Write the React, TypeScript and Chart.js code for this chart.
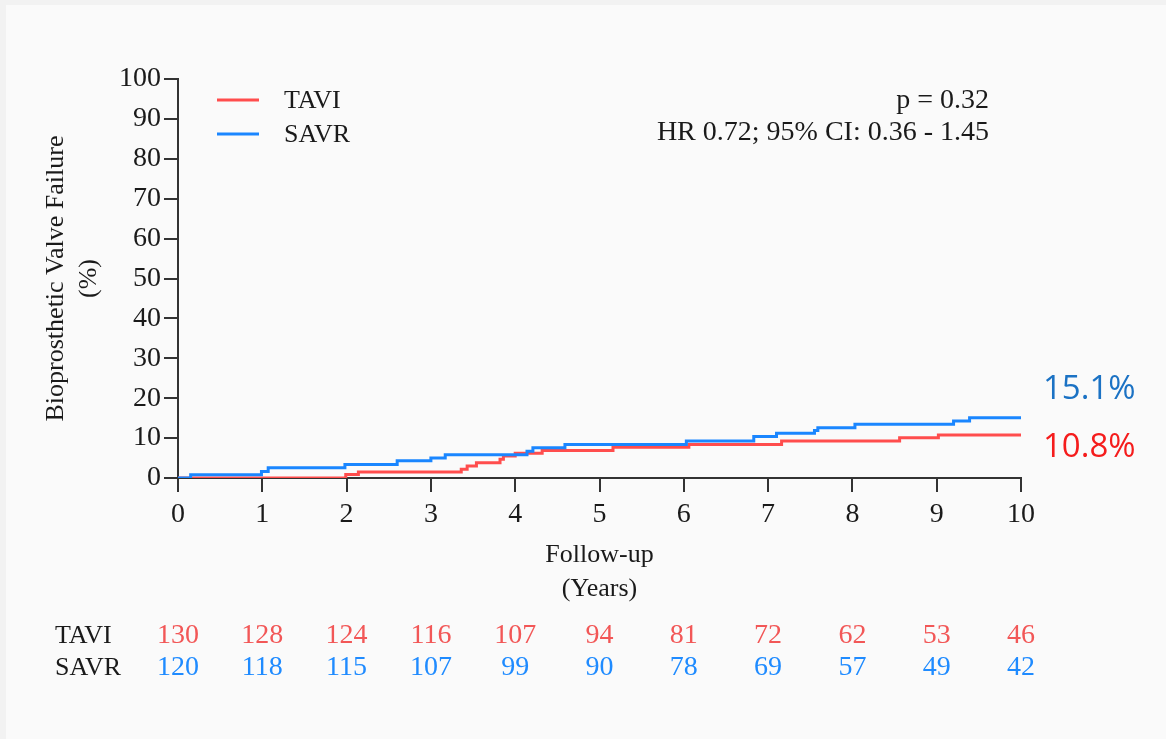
import React, { useEffect, useRef } from "react";
import { Chart, registerables } from "chart.js";

Chart.register(...registerables);

// ---- data ----
const taviTime = [0, 1.99, 2.14, 3.36, 3.43, 3.54, 3.82, 3.86, 4.0, 4.32, 5.16, 6.06, 7.16, 8.56, 9.02, 10];
const taviPct = [0, 0.9, 1.5, 2.2, 3.0, 3.8, 4.7, 5.5, 6.2, 6.9, 7.7, 8.4, 9.3, 10.1, 10.8, 10.8];
const savrTime = [0, 0.15, 0.99, 1.07, 1.98, 2.6, 3.0, 3.17, 4.14, 4.21, 4.59, 6.03, 6.83, 7.1, 7.55, 7.59, 8.03, 9.2, 9.39, 10];
const savrPct = [0, 0.8, 1.6, 2.6, 3.4, 4.3, 5.0, 5.8, 6.7, 7.6, 8.4, 9.3, 10.4, 11.2, 11.9, 12.6, 13.5, 14.3, 15.1, 15.1];

const riskTimes = [0, 1, 2, 3, 4, 5, 6, 7, 8, 9, 10];
const taviAtRisk = [130, 128, 124, 116, 107, 94, 81, 72, 62, 53, 46];
const savrAtRisk = [120, 118, 115, 107, 99, 90, 78, 69, 57, 49, 42];

const seriesNames = ["TAVI", "SAVR"];
const endLabels = ["10.8%", "15.1%"];
const statLines = ["p = 0.32", "HR 0.72; 95% CI: 0.36 - 1.45"];
const yTitle = ["Bioprosthetic Valve Failure", "(%)"];
const xTitle = ["Follow-up", "(Years)"];

const RED_LINE = "#ff4d4d";
const BLUE_LINE = "#1a86ff";
const RED_NUM = "#f25757";
const BLUE_NUM = "#1f8bff";
const RED_END = "#f51c1c";
const BLUE_END = "#1b72c4";
const AXIS = "#333333";
const TEXT = "#1a1a1a";
const SERIF = '"Liberation Serif", "DejaVu Serif", serif';

const overlay = {
  id: "overlay",
  afterDraw(chart: any) {
    const { ctx, chartArea, scales } = chart;
    const x = scales.x;
    const y = scales.y;
    const L = chartArea.left;
    const T = chartArea.top;
    const B = chartArea.bottom;
    const R = chartArea.right;
    ctx.save();
    ctx.textBaseline = "middle";

    // legend
    const legendColors = [RED_LINE, BLUE_LINE];
    seriesNames.forEach((name, i) => {
      const ly = T + 21 + i * 34;
      ctx.strokeStyle = legendColors[i];
      ctx.lineWidth = 3;
      ctx.beginPath();
      ctx.moveTo(L + 39, ly);
      ctx.lineTo(L + 81, ly);
      ctx.stroke();
      ctx.fillStyle = TEXT;
      ctx.font = `26px ${SERIF}`;
      ctx.textAlign = "left";
      ctx.fillText(name, L + 106, ly + 1);
    });

    // stats text
    ctx.textAlign = "right";
    ctx.fillStyle = TEXT;
    ctx.font = `28px ${SERIF}`;
    statLines.forEach((s, i) => ctx.fillText(s, R - 32, T + 22 + i * 32));

    // y title
    ctx.font = `26px ${SERIF}`;
    ctx.save();
    ctx.translate(56, (T + B) / 2);
    ctx.rotate(-Math.PI / 2);
    ctx.textAlign = "center";
    ctx.fillText(yTitle[0], 0, 0);
    ctx.fillText(yTitle[1], 0, 33);
    ctx.restore();

    // x title
    ctx.textAlign = "center";
    ctx.fillText(xTitle[0], (L + R) / 2, B + 77);
    ctx.fillText(xTitle[1], (L + R) / 2, B + 111);

    // end labels
    ctx.textAlign = "left";
    ctx.font = `33px "Open Sans", "Noto Sans", sans-serif`;
    ctx.fillStyle = RED_END;
    ctx.fillText(endLabels[0], R + 22, y.getPixelForValue(taviPct[taviPct.length - 1]) + 13);
    ctx.fillStyle = BLUE_END;
    ctx.fillText(endLabels[1], R + 22, y.getPixelForValue(savrPct[savrPct.length - 1]) - 28);

    // risk table
    ctx.font = `26px ${SERIF}`;
    ctx.fillStyle = TEXT;
    ctx.textAlign = "left";
    ctx.fillText(seriesNames[0], 55, B + 158);
    ctx.fillText(seriesNames[1], 55, B + 190);
    ctx.font = `28px ${SERIF}`;
    ctx.textAlign = "center";
    riskTimes.forEach((t, i) => {
      const px = x.getPixelForValue(t);
      ctx.fillStyle = RED_NUM;
      ctx.fillText(String(taviAtRisk[i]), px, B + 158);
      ctx.fillStyle = BLUE_NUM;
      ctx.fillText(String(savrAtRisk[i]), px, B + 190);
    });
    ctx.restore();
  },
};

export default function App() {
  const ref = useRef<HTMLCanvasElement | null>(null);
  useEffect(() => {
    if (!ref.current) return;
    const chart = new Chart(ref.current, {
      type: "line",
      data: {
        datasets: [
          {
            label: seriesNames[1],
            data: savrTime.map((t, i) => ({ x: t, y: savrPct[i] })),
            borderColor: BLUE_LINE,
            borderWidth: 3,
            pointRadius: 0,
            stepped: "before",
            fill: false,
          },
          {
            label: seriesNames[0],
            data: taviTime.map((t, i) => ({ x: t, y: taviPct[i] })),
            borderColor: RED_LINE,
            borderWidth: 3,
            pointRadius: 0,
            stepped: "before",
            fill: false,
          },
        ],
      },
      options: {
        responsive: false,
        animation: false,
        devicePixelRatio: 1,
        layout: { padding: { left: 0, top: 79, right: 145, bottom: 201 } },
        plugins: { legend: { display: false }, tooltip: { enabled: false } },
        scales: {
          x: {
            type: "linear",
            min: 0,
            max: 10,
            ticks: { stepSize: 1, padding: 6, color: TEXT, font: { family: SERIF, size: 28 } },
            grid: { drawOnChartArea: false, drawTicks: true, tickLength: 14, color: AXIS, lineWidth: 2 },
            border: { display: true, color: AXIS, width: 2 },
            afterFit: (s: any) => {
              s.height = 60;
            },
          },
          y: {
            type: "linear",
            min: 0,
            max: 100,
            ticks: { stepSize: 10, padding: 3, color: TEXT, font: { family: SERIF, size: 28 } },
            grid: { drawOnChartArea: false, drawTicks: true, tickLength: 14, color: AXIS, lineWidth: 2 },
            border: { display: true, color: AXIS, width: 2 },
            afterFit: (s: any) => {
              s.width = 178;
            },
          },
        },
      },
      plugins: [overlay],
    });
    return () => chart.destroy();
  }, []);

  return (
    <div style={{ position: "absolute", left: 0, top: 0, width: 1166, height: 739, background: "#f2f2f2", overflow: "hidden" }}>
      <div style={{ position: "absolute", left: 6, top: 5, right: 0, bottom: 0, background: "#fafafa" }} />
      <canvas ref={ref} width={1166} height={739} style={{ position: "absolute", left: 0, top: 0, width: 1166, height: 739 }} />
    </div>
  );
}
